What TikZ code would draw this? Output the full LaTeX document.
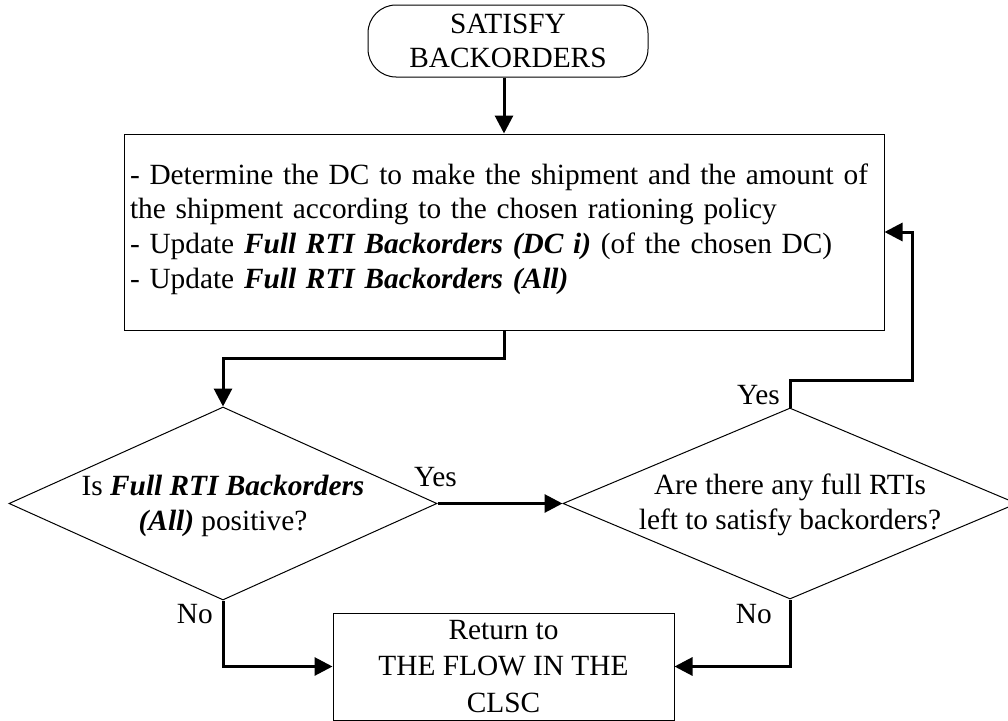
\documentclass[tikz,border=0pt]{standalone}
\usepackage{fontspec}
\setmainfont{Liberation Serif}
\usetikzlibrary{shapes.geometric,arrows.meta}

\tikzset{
  txt/.style={font=\fontsize{22pt}{26pt}\selectfont, text=black},
  shapeline/.style={draw=black, line width=0.75pt},
  terminal/.style={shapeline, txt, rounded corners=21pt, align=center,
    minimum width=210pt, minimum height=54pt, inner sep=0pt},
  procbox/.style={shapeline, txt, rectangle, align=left, inner xsep=4.5pt, inner ysep=0pt},
  decision/.style={shapeline, diamond, inner sep=0pt},
  dectext/.style={txt, align=center, inner sep=0pt},
  lbl/.style={txt, inner sep=0pt},
  conn/.style={line width=2.25pt, -{Triangle[length=13.5pt,width=13.5pt]}},
}

\begin{document}
\begin{tikzpicture}[x=0.75pt, y=-0.75pt]
  \useasboundingbox (0,0) rectangle (1008,721);
  \clip (0,0) rectangle (1008,721);

  % start terminal
  \node[terminal] (start) at (508,41) {SATISFY\\BACKORDERS};

  % processing step
  \node[procbox, text width=561pt, minimum width=570pt, minimum height=147pt] (proc) at (504,232)
    {- Determine the DC to make the shipment and the amount of\\
     the shipment according to the chosen rationing policy\\
     - Update \textbf{\textit{Full RTI Backorders (DC i)}} (of the chosen DC)\\
     - Update \textbf{\textit{Full RTI Backorders (All)}}\rule[-9.4pt]{0pt}{9.4pt}};

  % decisions
  \node[decision, minimum width=321pt, minimum height=144.75pt] (d1) at (223,503.5) {};
  \node[dectext] (d1t) at (223,506)
    {Is \textbf{\textit{Full RTI Backorders}}\\\textbf{\textit{(All)}} positive?};

  \node[decision, minimum width=340.5pt, minimum height=143.25pt] (d2) at (790,503.5) {};
  \node[dectext] (d2t) at (790,505)
    {Are there any full RTIs\\left to satisfy backorders?};

  % return step
  \node[procbox, align=center, font=\fontsize{22pt}{27.4pt}\selectfont,
        minimum width=255.75pt, minimum height=80.25pt] (end) at (503.5,666.5)
    {Return to\\THE FLOW IN THE\\CLSC};

  % loop-back corner
  \coordinate (lp) at (912,380);

  % connectors
  \draw[conn] (start.south -| proc.north) -- (proc.north);
  \draw[conn] (proc.south) -- ++(0,28) -| (d1.north);
  \draw[conn] (d1.east) -- (d2.west);
  \draw[conn] (d2.north) |- (lp) |- (proc.east);
  \draw[conn] (d1.south) |- (end.west);
  \draw[conn] (d2.south) |- (end.east);

  % branch labels
  \node[lbl, anchor=base] (yes1) at ([shift={(-2,-17)}]d1.east) {Yes};
  \node[lbl, anchor=base east] (yes2) at ([shift={(-10,-3)}]d2.north) {Yes};
  \node[lbl, anchor=base east] (no1) at ([shift={(-10,23)}]d1.south) {No};
  \node[lbl, anchor=base east] (no2) at ([shift={(-18,24)}]d2.south) {No};
\end{tikzpicture}
\end{document}
